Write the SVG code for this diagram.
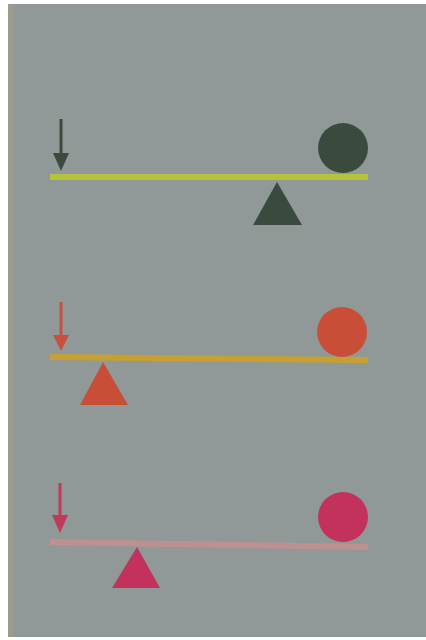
<svg xmlns="http://www.w3.org/2000/svg" width="426" height="640" viewBox="0 0 426 640">
<style>
.bar{stroke-width:6;stroke-linecap:butt}
.shaft{stroke-width:3}
</style>
<rect width="426" height="640" fill="#ffffff"/>
<rect x="8" y="4" width="418" height="633" fill="#909998"/>
<rect x="8" y="4" width="5" height="633" fill="#a49f86" opacity="0.6"/>
<g id="lever1">
<line class="bar" x1="50" y1="177" x2="368" y2="177" stroke="#b3c43a"/>
<line class="shaft" x1="61" y1="119" x2="61" y2="156" stroke="#3c4a3e"/>
<polygon points="53,153 69,153 61,171" fill="#3c4a3e"/>
<circle cx="343" cy="148" r="25" fill="#3b4a3e"/>
<polygon points="277,182 253,225 302,225" fill="#3b4a3e"/>
</g>
<g id="lever2">
<polygon points="50,354 368,357 368,363 50,360" fill="#c6a030"/>
<line class="shaft" x1="61" y1="302" x2="61" y2="338" stroke="#c85040"/>
<polygon points="53,335 69,335 61,351" fill="#c85040"/>
<circle cx="342" cy="332" r="25" fill="#c84e38"/>
<polygon points="103,362 80,405 128,405" fill="#c84e38"/>
</g>
<g id="lever3">
<polygon points="50,539 368,544 368,550 50,545" fill="#bf9090"/>
<line class="shaft" x1="60" y1="483" x2="60" y2="518" stroke="#c03a5c"/>
<polygon points="52,515 68,515 60,533" fill="#c03a5c"/>
<circle cx="343" cy="517" r="25" fill="#c2325c"/>
<polygon points="137,547 112,588 160,588" fill="#c2325c"/>
</g>
</svg>
